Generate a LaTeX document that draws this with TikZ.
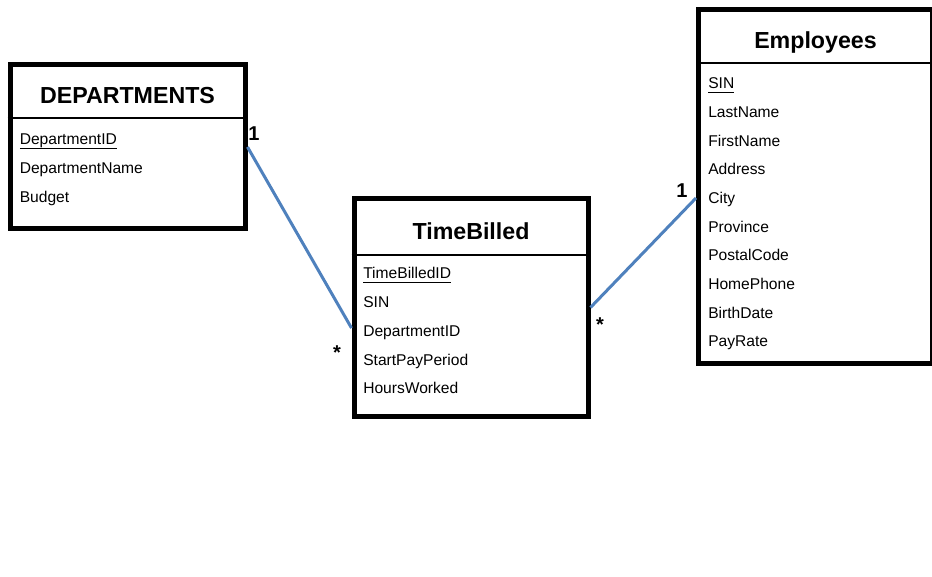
\documentclass[tikz,border=0pt]{standalone}
\usepackage{fontspec}
\setmainfont{Liberation Sans}
\usepackage{tikz}
\usetikzlibrary{shapes,positioning}
\definecolor{linkblue}{RGB}{79,129,189}
% key field, underlined just below the baseline
\newcommand*{\PK}[1]{\setbox0\hbox{#1}\rlap{\rule[-3pt]{\wd0}{0.8pt}}#1}
\tikzstyle{table} = [draw, rectangle, line width=3.75pt, inner sep=0pt]
\tikzstyle{title} = [anchor=base, inner sep=0pt, font=\bfseries\fontsize{17.4}{20}\selectfont]
\tikzstyle{field} = [anchor=base west, text width=150pt, align=left, inner sep=0pt, text height=9pt, text depth=3pt, font=\fontsize{11.7}{14}\selectfont, node distance=21.5pt]
\tikzstyle{rule} = [line width=1.5pt]
\tikzstyle{link} = [draw=linkblue, line width=2.25pt]
\tikzstyle{mult} = [anchor=base, inner sep=0pt, font=\bfseries\fontsize{15}{18}\selectfont]

\begin{document}
\begin{tikzpicture}[x=0.75pt, y=-0.75pt]
    \useasboundingbox (0,0) rectangle (932,577);
    % the three tables
    \node [table, minimum width=176.25pt, minimum height=123pt] (dept) at (127.5,147) {};
    \node [table, minimum width=175.5pt, minimum height=162.75pt] (bill) at (471,307.5) {};
    \node [table, minimum width=175.5pt, minimum height=265.5pt] (emp) at (815.5,187) {};
    % headers
    \node [title] (dept-title) at ([shift={(0,41.5)}]dept.north) {DEPARTMENTS};
    \node [title] (bill-title) at ([shift={(0,43.5)}]bill.north) {TimeBilled};
    \node [title] (emp-title) at ([shift={(0,41.5)}]emp.north) {Employees};
    \draw [rule] ([yshift=-41.6pt]dept.north west) -- ([yshift=-41.6pt]dept.north east);
    \draw [rule] ([yshift=-43.9pt]bill.north west) -- ([yshift=-43.9pt]bill.north east);
    \draw [rule] ([yshift=-41.6pt]emp.north west) -- ([yshift=-41.6pt]emp.north east);
    % DEPARTMENTS fields
    \node [field] (d1) at ([shift={(12,82.5)}]dept.north west) {\PK{DepartmentID}};
    \node [field, below of=d1] (d2) {DepartmentName};
    \node [field, below of=d2] (d3) {Budget};
    % TimeBilled fields
    \node [field] (t1) at ([shift={(11.5,82.5)}]bill.north west) {\PK{TimeBilledID}};
    \node [field, below of=t1] (t2) {SIN};
    \node [field, below of=t2] (t3) {DepartmentID};
    \node [field, below of=t3] (t4) {StartPayPeriod};
    \node [field, below of=t4] (t5) {HoursWorked};
    % Employees fields
    \node [field] (e1) at ([shift={(12,81.5)}]emp.north west) {\PK{SIN}};
    \node [field, below of=e1] (e2) {LastName};
    \node [field, below of=e2] (e3) {FirstName};
    \node [field, below of=e3] (e4) {Address};
    \node [field, below of=e4] (e5) {City};
    \node [field, below of=e5] (e6) {Province};
    \node [field, below of=e6] (e7) {PostalCode};
    \node [field, below of=e7] (e8) {HomePhone};
    \node [field, below of=e8] (e9) {BirthDate};
    \node [field, below of=e9] (e10) {PayRate};
    % relationships
    \draw [link] (dept.east) -- ([yshift=-15.4pt]bill.west);
    \draw [link] (bill.east) -- ([yshift=-8.25pt]emp.west);
    \node [mult] (dept-one) at ([shift={(6.5,-6)}]dept.east) {1};
    \node [mult] (bill-many) at ([shift={(-14.5,52)}]bill.west) {*};
    \node [mult] (bill-many2) at ([shift={(9.5,24)}]bill.east) {*};
    \node [mult] (emp-one) at ([shift={(-14,11)}]emp.west) {1};
\end{tikzpicture}
\end{document}
